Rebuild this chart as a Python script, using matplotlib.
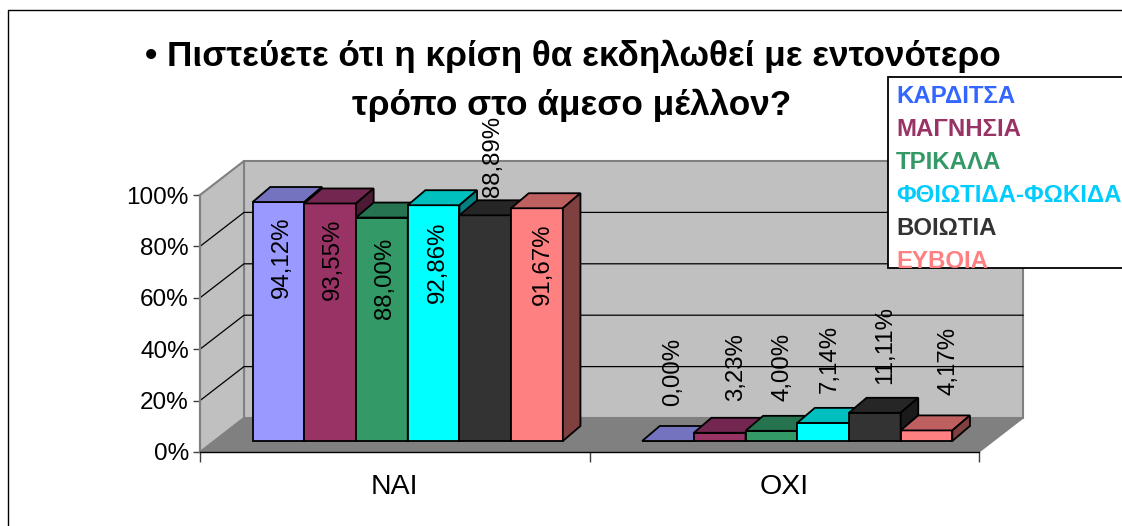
# 3d-look bar chart, drawn on a normal 2d axes with depth offsets
import matplotlib
matplotlib.use('Agg')
import matplotlib.pyplot as plt
from matplotlib.patches import Polygon, Rectangle
from matplotlib.ticker import FixedLocator

plt.rcParams['font.family'] = ['Liberation Sans', 'DejaVu Sans']

W, H = 1122, 526

# data
categories = ['ΝΑΙ', 'ΟΧΙ']
regions = ['ΚΑΡΔΙΤΣΑ', 'ΜΑΓΝΗΣΙΑ', 'ΤΡΙΚΑΛΑ', 'ΦΘΙΩΤΙΔΑ-ΦΩΚΙΔΑ', 'ΒΟΙΩΤΙΑ', 'ΕΥΒΟΙΑ']
nai_values = [94.12, 93.55, 88.00, 92.86, 88.89, 91.67]
oxi_values = [0.00, 3.23, 4.00, 7.14, 11.11, 4.17]
y_ticks = [0, 20, 40, 60, 80, 100]
title_lines = ['• Πιστεύετε ότι η κρίση θα εκδηλωθεί με εντονότερο', 'τρόπο στο άμεσο μέλλον?']

# colours: front, top, side
front_colors = ['#9999FF', '#993366', '#339966', '#00FFFF', '#333333', '#FF8080']
top_colors = ['#7373BF', '#732650', '#267350', '#00BFBF', '#262626', '#BF6060']
side_colors = ['#4D4D80', '#4D1A33', '#1A4D33', '#008080', '#1A1A1A', '#804040']
legend_colors = ['#3366FF', '#993366', '#339966', '#00CCFF', '#333333', '#FF8080']

# where the value labels sit, px from top middle of each bar (dy positive = down)
label_dx = [[3.7, 2.7, 3, 4, 8, 5.5], [5.5, 16, 11, 7, 10.5, 22]]
label_dy = [[55, 55.4, 61.3, 57.4, -59.2, 56.3], [-69, -65.3, -64.3, -63.9, -67.3, -69.4]]

fig = plt.figure(figsize=(W / 100, H / 100), dpi=100)

# front plane of the chart
left, right, bottom, top = 200, 979, 452, 195
ax = fig.add_axes([left / W, 1 - bottom / H, (right - left) / W, (bottom - top) / H])
ax.set_xlim(0, 2)
ax.set_ylim(0, 100)
ax.patch.set_visible(False)

# pixels to data units
ux = 2 / (right - left)
uy = 100 / (bottom - top)
wall_dx, wall_dy = 44 * ux, 34 * uy
base_dx, base_dy = 13 * ux, 11 * uy
bar_dx, bar_dy = 17.6 * ux, 15 * uy
bar_w = 51.7 * ux
bar_scale = 0.988  # bars come out a bit shorter than the wall


def poly(pts, color, edge, lw, z):
    ax.add_patch(Polygon(pts, closed=True, facecolor=color, edgecolor=edge, lw=lw,
                         zorder=z, clip_on=False, joinstyle='miter'))


# walls and floor
poly([(0, 0), (2, 0), (2 + wall_dx, wall_dy), (wall_dx, wall_dy)], '#808080', '#808080', 1.0, 1)
poly([(wall_dx, wall_dy), (2 + wall_dx, wall_dy), (2 + wall_dx, 100 + wall_dy), (wall_dx, 100 + wall_dy)],
     '#C0C0C0', '#808080', 1.5, 1)
poly([(0, 0), (wall_dx, wall_dy), (wall_dx, 100 + wall_dy), (0, 100)], '#C0C0C0', '#808080', 1.5, 1)
for t in y_ticks[1:-1]:
    ax.plot([0, wall_dx, 2 + wall_dx], [t, t + wall_dy, t + wall_dy], color='black', lw=0.9,
            zorder=2, clip_on=False)

# bars
for g, values in enumerate([nai_values, oxi_values]):
    x0 = g + 0.5 - 3 * bar_w + base_dx
    for i, v in enumerate(values):
        xa = x0 + i * bar_w
        xb = xa + bar_w
        y0 = base_dy
        y1 = base_dy + v * bar_scale
        z = 3 + i * 0.1
        poly([(xa, y0), (xb, y0), (xb, y1), (xa, y1)], front_colors[i], 'black', 1.3, z)
        poly([(xa, y1), (xb, y1), (xb + bar_dx, y1 + bar_dy), (xa + bar_dx, y1 + bar_dy)],
             top_colors[i], 'black', 1.3, z)
        poly([(xb, y0), (xb + bar_dx, y0 + bar_dy), (xb + bar_dx, y1 + bar_dy), (xb, y1)],
             side_colors[i], 'black', 1.3, z)
        # value label, comma decimals, rotated
        label = f'{v:.2f}%'.replace('.', ',')
        ax.text((xa + xb) / 2 + label_dx[g][i] * ux, y1 - label_dy[g][i] * uy, label, rotation=90,
                ha='center', va='center', fontsize=17.3, color='black', zorder=5, clip_on=False)

# axes
for s in ['top', 'right']:
    ax.spines[s].set_visible(False)
ax.spines['left'].set_color('#808080')
ax.spines['left'].set_linewidth(1.5)
ax.spines['bottom'].set_color('black')
ax.spines['bottom'].set_linewidth(1.0)
ax.set_yticks(y_ticks)
ax.set_yticklabels([f'{t}%' for t in y_ticks], fontsize=17.5)
ax.tick_params(axis='y', length=5, width=1, color='#404040', pad=3)
ax.set_xticks([0, 1, 2])
ax.set_xticklabels([])
ax.xaxis.set_minor_locator(FixedLocator([0.5, 1.5]))
ax.set_xticklabels(categories, minor=True, fontsize=20.5)
ax.tick_params(axis='x', which='major', length=7, width=1, color='#404040')
ax.tick_params(axis='x', which='minor', length=0, pad=16)

# chart frame
fig.add_artist(plt.Line2D([8 / W, 8 / W, 1], [0, 1 - 10 / H, 1 - 10 / H], color='black', lw=1.0))

# title
fig.text(573 / W, 1 - 56 / H, title_lines[0], ha='center', va='center', fontsize=25.3, fontweight='bold')
fig.text(572 / W, 1 - 105 / H, title_lines[1], ha='center', va='center', fontsize=25.3, fontweight='bold')

# legend box, it runs off the right edge
box = Rectangle((888 / W, 1 - 268 / H), 240 / W, 191 / H, transform=fig.transFigure,
                facecolor='white', edgecolor='black', lw=1.3, zorder=10)
fig.add_artist(box)
for i, name in enumerate(regions):
    fig.text(896 / W, 1 - (96.5 + i * 32.9) / H, name, color=legend_colors[i], fontsize=17.3,
             fontweight='bold', ha='left', va='center', zorder=11)

fig.savefig('out.png', dpi=100)
